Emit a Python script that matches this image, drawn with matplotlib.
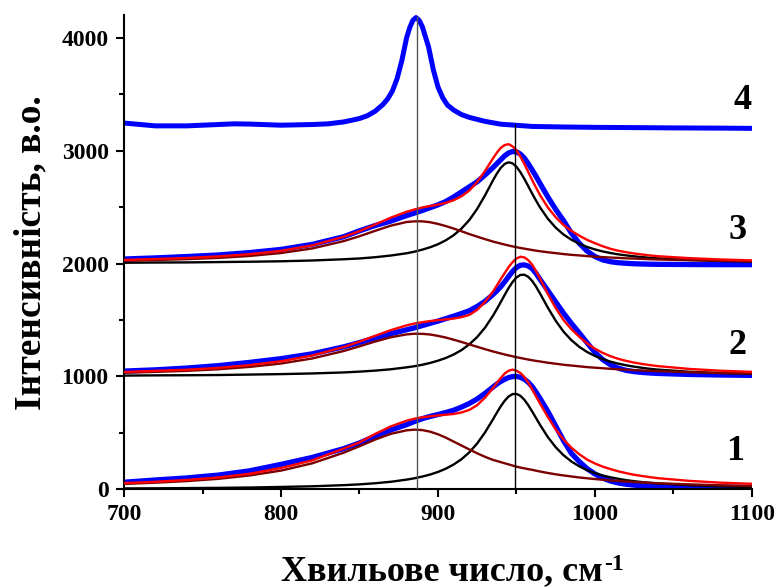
import matplotlib
matplotlib.use('Agg')
import matplotlib.pyplot as plt
from matplotlib.ticker import MultipleLocator

# Fonts: bold Times-like serif everywhere
plt.rcParams['font.family'] = ['Liberation Serif', 'DejaVu Serif']
plt.rcParams['font.weight'] = 'bold'

# Common wavenumber grid for spectra 1-3
wavenumber = [700, 720, 740, 760, 780, 800, 820, 840, 850, 860,
              870, 880, 885, 890, 895, 900, 905, 910, 915, 920,
              925, 930, 935, 937.5, 940, 942.5, 945, 947.5, 950, 952.5,
              955, 957.5, 960, 962.5, 965, 970, 975, 980, 985, 990,
              995, 1000, 1005, 1010, 1015, 1020, 1025, 1030, 1035, 1040,
              1060, 1080, 1100]

# Spectrum 1 (offset 0)
exp_1 = [62, 82, 100, 125, 163, 220, 282, 360, 410, 470,
         525, 572, 600, 625, 645, 662, 680, 700, 728, 760,
         800, 850, 905, 932, 955, 974, 990, 998, 1000, 992,
         975, 948, 910, 860, 805, 690, 560, 430, 318, 245,
         182, 135, 98, 72, 55, 44, 36, 31, 27, 25,
         19, 16, 15]
fit_1 = [54, 66, 82, 104, 137, 188, 256, 360, 415, 490,
         557, 607, 625, 637, 646, 654, 660, 667, 680, 703,
         745, 812, 895, 942, 985, 1025, 1050, 1060, 1050, 1030,
         995, 945, 885, 822, 760, 640, 530, 440, 368, 310,
         263, 228, 200, 178, 158, 142, 128, 117, 107, 98,
         74, 58, 48]
band_hi_1 = [7, 8, 10, 12, 15, 20, 26, 36, 43, 53,
             66, 85, 97, 112, 130, 153, 182, 219, 266, 327,
             406, 504, 618, 678, 735, 784, 822, 843, 845, 828,
             793, 745, 689, 630, 571, 462, 372, 301, 246, 203,
             169, 143, 122, 105, 92, 80, 71, 63, 57, 51,
             35, 25, 19]
band_lo_1 = [47, 58, 72, 92, 122, 165, 230, 324, 381, 440,
             491, 522, 528, 524, 510, 487, 457, 422, 387, 352,
             318, 287, 260, 250, 240, 230, 220, 210, 200, 192,
             185, 178, 172, 164, 157, 144, 132, 122, 113, 104,
             97, 90, 84, 78, 73, 68, 64, 60, 56, 53,
             43, 35, 29]

# Spectrum 2 (offset 1000)
exp_2 = [1047, 1058, 1074, 1095, 1124, 1157, 1200, 1262, 1300, 1340,
         1378, 1413, 1430, 1450, 1470, 1490, 1512, 1534, 1557, 1582,
         1620, 1665, 1725, 1758, 1795, 1838, 1885, 1930, 1965, 1985,
         1988, 1978, 1955, 1912, 1860, 1760, 1660, 1560, 1470, 1385,
         1298, 1212, 1148, 1102, 1072, 1053, 1042, 1035, 1030, 1026,
         1017, 1012, 1009]
fit_2 = [1039, 1049, 1059, 1075, 1100, 1134, 1185, 1260, 1308, 1360,
         1410, 1452, 1468, 1480, 1490, 1498, 1505, 1512, 1525, 1545,
         1590, 1660, 1750, 1805, 1862, 1915, 1969, 2012, 2045, 2060,
         2055, 2030, 1990, 1932, 1867, 1730, 1605, 1499, 1418, 1351,
         1292, 1245, 1208, 1178, 1155, 1137, 1122, 1110, 1100, 1091,
         1066, 1050, 1040]
band_hi_2 = [1007, 1009, 1010, 1012, 1016, 1020, 1026, 1035, 1042, 1051,
             1063, 1080, 1090, 1103, 1119, 1139, 1163, 1194, 1233, 1284,
             1349, 1432, 1537, 1596, 1659, 1722, 1783, 1836, 1877, 1899,
             1901, 1883, 1846, 1795, 1735, 1609, 1493, 1396, 1321, 1262,
             1216, 1181, 1153, 1130, 1112, 1098, 1086, 1076, 1067, 1060,
             1041, 1029, 1022]
band_lo_2 = [1032, 1040, 1049, 1063, 1084, 1114, 1159, 1225, 1266, 1309,
             1347, 1372, 1378, 1377, 1371, 1359, 1344, 1325, 1305, 1283,
             1262, 1241, 1221, 1212, 1203, 1194, 1186, 1178, 1170, 1163,
             1156, 1149, 1143, 1137, 1132, 1121, 1112, 1103, 1096, 1089,
             1082, 1077, 1072, 1067, 1063, 1059, 1055, 1052, 1049, 1046,
             1037, 1030, 1025]

# Spectrum 3 (offset 2000)
exp_3 = [2040, 2050, 2062, 2076, 2097, 2125, 2170, 2238, 2290, 2337,
         2376, 2425, 2447, 2470, 2495, 2520, 2550, 2590, 2635, 2680,
         2725, 2785, 2850, 2885, 2920, 2955, 2980, 2993, 2990, 2970,
         2935, 2885, 2830, 2772, 2710, 2590, 2480, 2380, 2270, 2180,
         2110, 2062, 2032, 2016, 2007, 2002, 1998, 1996, 1994, 1993,
         1991, 1990, 1990]
fit_3 = [2032, 2040, 2049, 2063, 2083, 2113, 2161, 2237, 2287, 2346,
         2407, 2459, 2479, 2497, 2510, 2522, 2538, 2561, 2596, 2647,
         2723, 2821, 2931, 2982, 3025, 3050, 3058, 3038, 3003, 2948,
         2883, 2812, 2740, 2672, 2607, 2497, 2410, 2341, 2290, 2247,
         2210, 2180, 2153, 2130, 2113, 2100, 2089, 2080, 2072, 2065,
         2048, 2036, 2028]
band_hi_3 = [2007, 2009, 2010, 2013, 2016, 2020, 2027, 2038, 2045, 2056,
             2071, 2091, 2105, 2123, 2144, 2171, 2206, 2251, 2310, 2386,
             2485, 2605, 2736, 2797, 2848, 2883, 2897, 2888, 2858, 2810,
             2751, 2686, 2620, 2557, 2498, 2397, 2318, 2257, 2211, 2175,
             2147, 2125, 2107, 2093, 2081, 2072, 2064, 2057, 2051, 2046,
             2032, 2023, 2018]
band_lo_3 = [2025, 2031, 2039, 2050, 2067, 2093, 2134, 2199, 2242, 2290,
             2336, 2368, 2374, 2374, 2366, 2351, 2332, 2310, 2286, 2261,
             2238, 2216, 2195, 2186, 2177, 2168, 2160, 2152, 2145, 2138,
             2132, 2126, 2120, 2114, 2109, 2100, 2092, 2084, 2077, 2072,
             2066, 2061, 2057, 2053, 2050, 2046, 2044, 2041, 2038, 2036,
             2029, 2024, 2020]

# Spectrum 4 (reference, offset ~3200), finer grid around the sharp band
wavenumber_4 = [700, 720, 740, 760, 770, 780, 800, 820, 830, 840,
                850, 855, 860, 865, 868, 871, 874, 877, 880, 882,
                884, 886, 888, 890, 892, 894, 897, 900, 903, 906,
                910, 915, 920, 930, 940, 950, 960, 980, 1000, 1020,
                1050, 1080, 1100]
exp_4 = [3245, 3220, 3220, 3232, 3238, 3236, 3226, 3232, 3238, 3255,
         3285, 3310, 3350, 3410, 3460, 3530, 3640, 3800, 4000, 4090,
         4155, 4180, 4155, 4100, 4010, 3920, 3720, 3565, 3470, 3405,
         3360, 3320, 3295, 3260, 3235, 3225, 3215, 3210, 3207, 3205,
         3202, 3200, 3198]

# Marker lines at the band positions
band_pos = [886.5, 949.3]
band_top = [4190, 3240]
band_line_colors = ['#555555', 'black']

spectrum_names = ['1', '2', '3', '4']

fig = plt.figure(figsize=(7.8, 5.88), dpi=100)
ax = fig.add_axes([0.159, 0.168, 0.805, 0.806])

# measured spectra, components and fits
for hi, lo, fit, exp in [(band_hi_1, band_lo_1, fit_1, exp_1),
                         (band_hi_2, band_lo_2, fit_2, exp_2),
                         (band_hi_3, band_lo_3, fit_3, exp_3)]:
    ax.plot(wavenumber, exp, color='#0000ff', lw=3.8,
            solid_joinstyle='round', zorder=2)
    ax.plot(wavenumber, hi, color='black', lw=1.7, zorder=3)
    ax.plot(wavenumber, lo, color='#7a0000', lw=1.7, zorder=3)
    ax.plot(wavenumber, fit, color='#ff0000', lw=1.7, zorder=4)

ax.plot(wavenumber_4, exp_4, color='#0000ff', lw=3.6,
        solid_joinstyle='round', zorder=2)

ax.vlines(band_pos, 0, band_top, colors=band_line_colors, lw=1.0, zorder=5)

# curve numbers
ax.text(1089, 330, spectrum_names[0], fontsize=26, ha='center', va='center')
ax.text(1091, 1275, spectrum_names[1], fontsize=26, ha='center', va='center')
ax.text(1091, 2292, spectrum_names[2], fontsize=26, ha='center', va='center')
ax.text(1094, 3443, spectrum_names[3], fontsize=26, ha='center', va='center')

ax.set_xlim(700, 1100)
ax.set_ylim(0, 4200)
ax.xaxis.set_major_locator(MultipleLocator(100))
ax.xaxis.set_minor_locator(MultipleLocator(50))
ax.yaxis.set_major_locator(MultipleLocator(1000))
ax.yaxis.set_minor_locator(MultipleLocator(500))

for side in ['top', 'right']:
    ax.spines[side].set_visible(False)
for side in ['left', 'bottom']:
    ax.spines[side].set_linewidth(1.5)

ax.tick_params(which='major', direction='out', length=6, width=1.5,
               labelsize=17, pad=5)
ax.tick_params(which='minor', direction='out', length=3.5, width=1.5)

ax.set_xlabel('Хвильове число, см', fontsize=26, fontweight='bold')
ax.set_ylabel('Інтенсивність, в.о.', fontsize=27, fontweight='bold')
ax.xaxis.set_label_coords(0.506, -0.14)
ax.yaxis.set_label_coords(-0.121, 0.499)

# superscript "-1" placed right after the x label
fig.canvas.draw()
lab = ax.xaxis.label.get_window_extent()
W, H = fig.bbox.width, fig.bbox.height
fig.text((lab.x1 + 2) / W, lab.y1 / H + 0.003, '-1', fontsize=17,
         fontweight='bold', ha='left', va='top')

fig.savefig('out.png', dpi=100)
